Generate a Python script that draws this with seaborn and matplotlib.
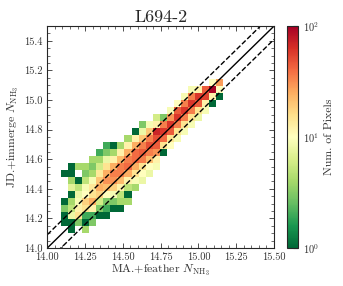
import numpy as np
import pandas as pd
import matplotlib
matplotlib.use("Agg")
import matplotlib.pyplot as plt
import seaborn as sns
from matplotlib.colors import LogNorm
from matplotlib.ticker import MultipleLocator, FormatStrFormatter

# 2D histogram: per column, the first filled row and the counts going up
col_start = [1, 0, 1, 0, 1, 2, 2, 3, 3, 4, 6, 7, 8, 9, 11, 12, 13, 14, 15, 16, 17, 18, 19]
col_counts = [
    [1, 1, 3, 1, 0, 0, 0, 1],
    [1, 1, 8, 5, 4, 1, 7, 4, 1, 1],
    [3, 15, 12, 9, 8, 5, 1, 0, 4],
    [4, 1, 2, 15, 18, 10, 9, 5, 3, 4],
    [3, 2, 12, 25, 15, 14, 9, 4, 3, 4],
    [1, 3, 6, 18, 25, 20, 14, 6, 4, 2],
    [1, 2, 3, 10, 22, 30, 25, 15, 8, 3, 2],
    [1, 3, 9, 18, 30, 35, 25, 12, 4, 1],
    [1, 4, 5, 12, 22, 35, 35, 22, 12, 4],
    [4, 1, 5, 12, 25, 40, 35, 25, 12, 4],
    [4, 9, 15, 25, 40, 40, 25, 12, 1],
    [8, 10, 15, 35, 45, 35, 20, 8, 3],
    [8, 10, 22, 35, 50, 35, 20, 9],
    [9, 12, 30, 45, 50, 70, 12, 6],
    [1, 15, 40, 60, 35, 3],
    [10, 15, 45, 60, 30, 9],
    [9, 15, 35, 60, 45, 10],
    [9, 15, 35, 60, 35, 9],
    [9, 15, 35, 60, 35, 9],
    [8, 15, 45, 60, 12],
    [9, 12, 55, 45],
    [1, 12, 95, 10],
    [1, 10, 28],
]
x_edges = 14.09 + 0.0467 * np.arange(24)
y_edges = 14.10 + 0.0475 * np.arange(23)
band = 0.09

xc = (x_edges[:-1] + x_edges[1:]) / 2
yc = (y_edges[:-1] + y_edges[1:]) / 2
rows = []
for c, (start, vals) in enumerate(zip(col_start, col_counts)):
    for k, v in enumerate(vals):
        if v > 0:
            rows.append((xc[c], yc[start + k], v))
df = pd.DataFrame(rows, columns=["x", "y", "n"])

sns.set_style("ticks")
plt.rcParams["font.family"] = "serif"
plt.rcParams["font.serif"] = ["cmr10", "DejaVu Serif"]
plt.rcParams["mathtext.fontset"] = "cm"
plt.rcParams["axes.formatter.use_mathtext"] = True

fig = plt.figure(figsize=(3.43, 2.86), dpi=100)
ax = fig.add_axes([0.138, 0.133, 0.661, 0.776])
cax = fig.add_axes([0.838, 0.133, 0.031, 0.776])

sns.histplot(data=df, x="x", y="y", weights="n", bins=[x_edges, y_edges],
             cmap="RdYlGn_r", cbar=False, ax=ax)
mesh = ax.collections[0]
mesh.set_norm(LogNorm(vmin=1, vmax=100))

lims = np.array([14.0, 15.5])
ax.plot(lims, lims, color="k", lw=1.0)
ax.plot(lims, lims + band, color="k", lw=1.0, ls="--")
ax.plot(lims, lims - band, color="k", lw=1.0, ls="--")

ax.set_xlim(14.0, 15.5)
ax.set_ylim(14.0, 15.5)
ax.xaxis.set_major_locator(MultipleLocator(0.25))
ax.xaxis.set_minor_locator(MultipleLocator(0.05))
ax.yaxis.set_major_locator(MultipleLocator(0.2))
ax.yaxis.set_minor_locator(MultipleLocator(0.05))
ax.xaxis.set_major_formatter(FormatStrFormatter("%.2f"))
ax.yaxis.set_major_formatter(FormatStrFormatter("%.1f"))
ax.tick_params(which="both", direction="in", top=True, right=True, labelsize=7.5, colors="#333333")
ax.tick_params(which="major", length=3.5, width=0.6)
ax.tick_params(which="minor", length=2, width=0.5)
for s in ax.spines.values():
    s.set_linewidth(0.8)

ax.set_title("L694-2", fontsize=13, pad=3)
ax.set_xlabel(r"MA.+feather $N_{\rm NH_3}$", fontsize=8.5, labelpad=0, color="#333333")
ax.set_ylabel(r"JD.+immerge $N_{\rm NH_3}$", fontsize=8.5, labelpad=2, color="#333333")

cb = fig.colorbar(mesh, cax=cax)
cb.set_label("Num. of Pixels", fontsize=8.5, color="#333333")
cb.ax.tick_params(which="both", direction="in", labelsize=7.5, colors="#333333")
cb.ax.tick_params(which="major", length=3.5)
cb.ax.tick_params(which="minor", length=2)
cb.outline.set_linewidth(0.8)

fig.savefig("out.png", dpi=100)
